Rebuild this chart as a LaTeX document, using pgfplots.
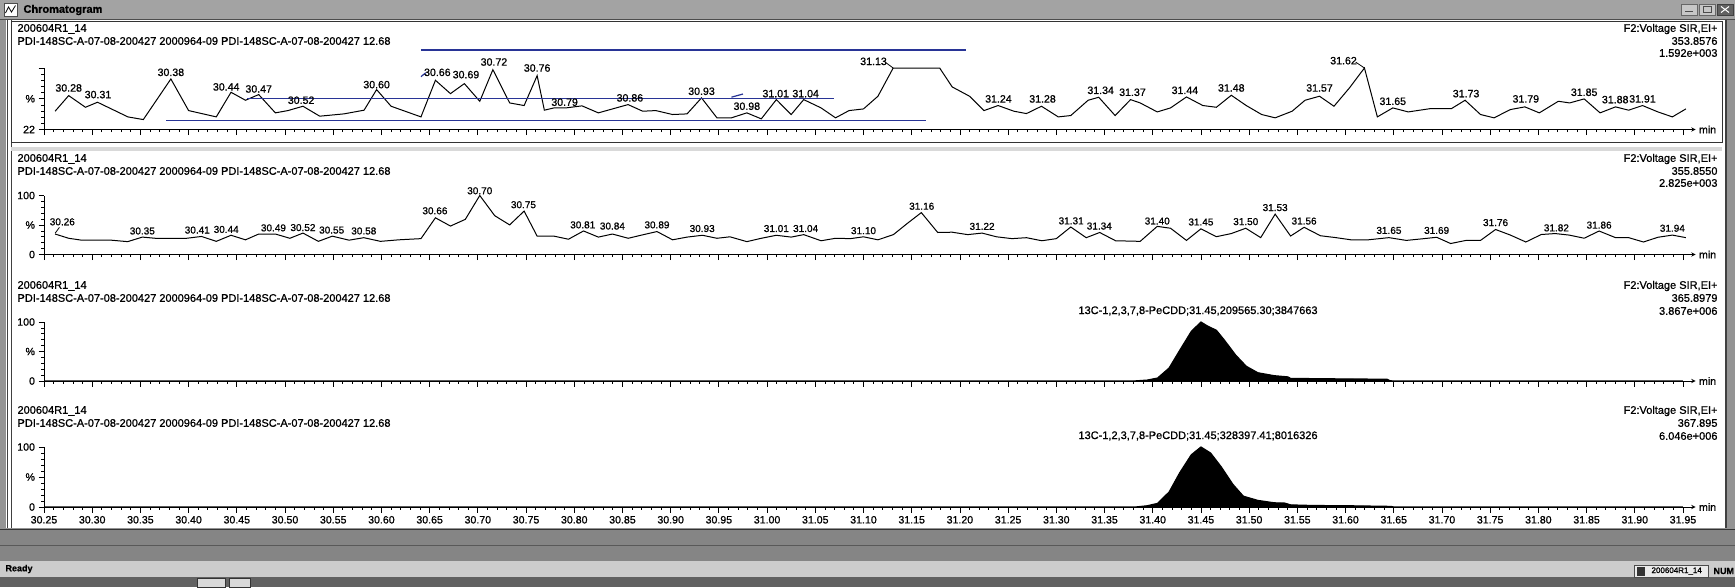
\documentclass[border=0pt]{standalone}
\usepackage{pgfplots}
\pgfplotsset{compat=1.18}
\usepackage{fontspec}
\setmainfont{Liberation Sans}[FakeBold=0.9]
\newcommand{\fh}{\fontsize{11pt}{12pt}\selectfont}
\newcommand{\fs}{\fontsize{10.6pt}{12pt}\selectfont}
\newcommand{\fl}{\fontsize{10pt}{11pt}\selectfont}
\definecolor{ann}{RGB}{40,52,150}
\tikzset{lab/.style={font=\fs, inner sep=0pt}, labs/.style={font=\fl, inner sep=0pt}}
\pgfplotsset{chrom/.style={
  scale only axis, width=1651.5pt, height=59pt,
  xmin=30.25, xmax=31.963,
  axis x line*=bottom, axis y line*=left,
  x axis line style={-stealth},
  axis line style={black, line width=0.9pt},
  tick align=outside,
  major tick length=5.5pt, minor tick length=2.7pt,
  every tick/.style={black, line width=0.8pt},
  xtick={30.25,30.30,30.35,30.40,30.45,30.50,30.55,30.60,30.65,30.70,30.75,30.80,30.85,30.90,30.95,31.00,31.05,31.10,31.15,31.20,31.25,31.30,31.35,31.40,31.45,31.50,31.55,31.60,31.65,31.70,31.75,31.80,31.85,31.90,31.95},
  minor x tick num=4, minor y tick num=4,
  ymin=0, ymax=100, ytick={0,50,100}, yticklabels={0,\%,100},
  tick label style={font=\fs},
  clip=false,
  cycle list={{black, line width=1pt, mark=none}},
}, nolab/.style={xticklabel style={opacity=0, text opacity=0}}}
\begin{document}
\begin{tikzpicture}
\useasboundingbox (0pt,0pt) rectangle (1735pt,-587pt);
\begin{scope}[x=1pt,y=-1pt]
% window
\fill[black!42] (0,0) rectangle (1735,587);
\fill[black!36] (0,0) rectangle (1735,19);
\draw[black!70] (0,19.5) -- (1735,19.5);
\draw[draw=black!70, fill=white] (4,3) rectangle (17,16);
\draw[black, line width=0.8pt] (5.5,13) -- (8.5,7) -- (11.5,12) -- (15.5,5.5);
\node[anchor=west, font=\fh\bfseries] at (20,10) {Chromatogram};
\draw[draw=black!60, fill=black!22] (1681,4) rectangle (1697,15);
\draw[black!70, line width=1pt] (1685,11.5) -- (1693,11.5);
\draw[draw=black!60, fill=black!22] (1699,4) rectangle (1715,15);
\draw[black!70, line width=0.8pt] (1703,6.5) rectangle (1711,12.5);
\draw[draw=black!75, fill=black!62] (1717,4) rectangle (1733,15);
\draw[white, line width=1pt] (1721,6.5) -- (1729,12.5) (1721,12.5) -- (1729,6.5);
% client area
\fill[white] (6,20) rectangle (1726,528);
\draw[black!75, line width=0.9pt] (7,20) -- (7,528);
\draw[black!75, line width=0.9pt] (11,20) -- (11,528);
\draw[black!75, line width=1.2pt] (1726,20) -- (1726,528);
\draw[black!80, line width=0.9pt] (11,21) rectangle (1722,142);
\fill[black!15] (11,147) rectangle (1722,151);
% bottom bars
\fill[black!48] (0,529) rectangle (1735,561);
\draw[black!80, line width=1pt] (0,529) -- (1735,529);
\draw[black!65] (0,545) -- (1735,545);
\fill[black!20] (0,561) rectangle (1735,577);
\fill[black!62] (0,577) rectangle (1735,587);
\node[anchor=west, font=\fontsize{9pt}{10pt}\selectfont\bfseries] at (2,569) {Ready};
\draw[draw=black!80, fill=black!15] (197,578) rectangle (225,587);
\draw[draw=black!80, fill=black!15] (229,578) rectangle (250,587);
\draw[draw=black!70, fill=black!8] (1634,565) rectangle (1708,577);
\fill[black!80] (1637,566.5) rectangle (1645,575.5);
\node[anchor=west, font=\fontsize{8pt}{9pt}\selectfont] at (1648,571) {200604R1\_14};
\node[anchor=west, font=\fontsize{9pt}{10pt}\selectfont\bfseries] at (1710,571) {NUM};
% panel headers
\foreach \ya/\yb in {29/41, 159/171, 286/298, 411/423}{
  \node[anchor=west, font=\fh] at (14,\ya) {200604R1\_14};
  \node[anchor=west, font=\fh] at (14,\yb) {PDI-148SC-A-07-08-200427 2000964-09 PDI-148SC-A-07-08-200427 12.68};
}
\foreach \ya/\yb/\yc/\ta/\tb in {29/41/53/353.8576/1.592e+003, 159/171/183/355.8550/2.825e+003, 286/298/311/365.8979/3.867e+006, 411/423/436/367.895/6.046e+006}{
  \node[anchor=east, font=\fh] at (1721,\ya) {F2:Voltage SIR,EI+};
  \node[anchor=east, font=\fh] at (1721,\yb) {\ta};
  \node[anchor=east, font=\fh] at (1721,\yc) {\tb};
}
\end{scope}

% ---------------- panel 1
\begin{axis}[chrom, nolab, at={(44pt,-129.5pt)}, anchor=south west, height=61.5pt,
  ymin=22, ymax=100, ytick={22,61,100}, yticklabels={22,\%,{}}]
\addplot[black, line width=1pt] coordinates {
(30.2615,45.2)(30.2756,65.0)(30.293,50.2)(30.3055,56.6)(30.337,38.0)(30.353,34.6)
(30.3816,86.1)(30.400,46.0)(30.4287,38.0)(30.444,69.2)(30.459,59.1)(30.4727,66.3)
(30.490,43.1)(30.503,46.0)(30.5186,51.5)(30.536,38.9)(30.561,41.8)(30.582,46.5)
(30.595,72.6)(30.610,51.5)(30.641,38.0)(30.656,84.4)(30.6716,67.5)(30.686,80.2)
(30.702,57.8)(30.7156,97.9)(30.733,55.7)(30.748,52.4)(30.7615,90.3)(30.769,46.5)
(30.779,49.4)(30.792,49.5)(30.808,52.0)(30.825,43.1)(30.8558,53.6)(30.871,45.2)
(30.8846,46.0)(30.902,41.0)(30.917,41.8)(30.932,62.1)(30.948,36.8)(30.963,36.8)
(30.979,43.1)(30.994,35.5)(31.0096,59.9)(31.025,41.0)(31.038,59.9)(31.056,49.4)
(31.071,36.8)(31.085,46.0)(31.100,48.1)(31.115,64.2)(31.1308,100)(31.179,100)
(31.192,76.0)(31.210,64.2)(31.225,46.0)(31.2396,52.4)(31.256,45.2)(31.269,42.2)
(31.2846,51.5)(31.302,38.0)(31.315,39.7)(31.333,59.1)(31.344,62.9)(31.361,39.7)
(31.377,59.9)(31.387,55.7)(31.4047,44.3)(31.4185,49.4)(31.435,63.3)(31.452,52.4)
(31.466,50.2)(31.4815,65.4)(31.497,52.4)(31.513,41.0)(31.527,36.8)(31.5446,45.2)
(31.558,59.1)(31.573,64.2)(31.588,51.5)(31.604,74.7)(31.6196,100)(31.633,38.0)
(31.649,49.4)(31.665,44.3)(31.6886,48.6)(31.710,48.6)(31.724,59.1)(31.740,41.0)
(31.754,36.8)(31.771,47.3)(31.786,50.7)(31.801,43.1)(31.8207,57.8)(31.8325,55.7)
(31.8475,60.8)(31.864,43.1)(31.880,50.7)(31.8936,46.5)(31.908,52.4)(31.924,44.3)
(31.939,38.0)(31.953,48.1)};
% hand-drawn blue annotation lines
\addplot[ann, line width=1.8pt] coordinates {(30.641,122.5)(31.206,122.5)};
\addplot[ann, line width=1.8pt] coordinates {(30.461,61.2)(31.069,61.2)};
\addplot[ann, line width=1.8pt] coordinates {(30.377,33.5)(31.165,33.5)};
\addplot[ann, line width=1.2pt] coordinates {(30.641,89)(30.646,94)};
\addplot[ann, line width=1.2pt] coordinates {(30.963,63)(30.975,67)};
\node[lab] at (axis cs:30.2756,74.7) {30.28};
\node[lab] at (axis cs:30.306,66.3) {30.31};
\node[lab] at (axis cs:30.3816,94.5) {30.38};
\node[lab] at (axis cs:30.439,76) {30.44};
\node[lab] at (axis cs:30.4727,73.4) {30.47};
\node[lab] at (axis cs:30.5167,59.1) {30.52};
\node[lab] at (axis cs:30.595,78.9) {30.60};
\node[lab] at (axis cs:30.658,94.5) {30.66};
\node[lab] at (axis cs:30.6877,91.6) {30.69};
\node[lab] at (axis cs:30.7167,107.6) {30.72};
\node[lab] at (axis cs:30.7615,100) {30.76};
\node[lab] at (axis cs:30.79,56.6) {30.79};
\node[lab] at (axis cs:30.8577,62.1) {30.86};
\node[lab] at (axis cs:30.932,70.5) {30.93};
\node[lab] at (axis cs:30.979,51.5) {30.98};
\node[lab] at (axis cs:31.009,67.5) {31.01};
\node[lab] at (axis cs:31.040,67.5) {31.04};
\node[lab] at (axis cs:31.1104,108.4) {31.13};
\draw[black, line width=0.8pt] (axis cs:31.1235,106.5) -- (axis cs:31.1308,100);
\node[lab] at (axis cs:31.240,60.8) {31.24};
\node[lab] at (axis cs:31.2857,60.8) {31.28};
\node[lab] at (axis cs:31.346,71.7) {31.34};
\node[lab] at (axis cs:31.379,69.2) {31.37};
\node[lab] at (axis cs:31.4334,71.7) {31.44};
\node[lab] at (axis cs:31.4815,74.7) {31.48};
\node[lab] at (axis cs:31.573,74.7) {31.57};
\node[lab] at (axis cs:31.5979,109.3) {31.62};
\draw[black, line width=0.8pt] (axis cs:31.6105,107.5) -- (axis cs:31.6196,100);
\node[lab] at (axis cs:31.649,57.8) {31.65};
\node[lab] at (axis cs:31.725,67.5) {31.73};
\node[lab] at (axis cs:31.787,60.8) {31.79};
\node[lab] at (axis cs:31.8475,69.2) {31.85};
\node[lab] at (axis cs:31.8797,59.9) {31.88};
\node[lab] at (axis cs:31.908,60.8) {31.91};
\node[font=\fs, anchor=west] at (rel axis cs:1,0) {min};
\end{axis}

% ---------------- panel 2
\begin{axis}[chrom, nolab, at={(44pt,-254.5pt)}, anchor=south west]
\addplot[black, line width=1pt] coordinates {
(30.2615,34.7)(30.2756,27.5)(30.289,24.3)(30.3196,24.3)(30.3368,21.8)(30.352,29.5)
(30.3655,27.5)(30.398,27.5)(30.4133,30.6)(30.4287,22.3)(30.444,32.6)(30.459,24.9)
(30.4727,34.7)(30.490,34.7)(30.505,27.5)(30.5186,36.3)(30.5346,22.3)(30.549,31.1)
(30.5664,24.3)(30.5817,28.5)(30.599,22.3)(30.618,24.9)(30.641,26.9)(30.656,62.2)
(30.6716,48.2)(30.687,59.6)(30.702,100)(30.7175,65.8)(30.733,50.2)(30.748,73.6)
(30.7615,31.1)(30.779,31.1)(30.794,25.9)(30.8096,39.9)(30.825,29.5)(30.8396,34.7)
(30.856,27.5)(30.869,32.6)(30.8858,38.9)(30.902,24.9)(30.917,29.5)(30.933,32.6)
(30.948,27.5)(30.9615,30.0)(30.979,21.8)(30.994,27.5)(31.0096,32.6)(31.025,29.5)
(31.038,33.7)(31.056,23.3)(31.071,27.5)(31.0865,26.9)(31.100,30.0)(31.115,24.9)
(31.131,33.7)(31.146,53.4)(31.160,71.0)(31.177,37.3)(31.192,37.8)(31.208,33.7)
(31.223,36.3)(31.238,30.0)(31.254,26.9)(31.269,28.5)(31.285,23.3)(31.300,26.9)
(31.315,46.6)(31.331,28.5)(31.345,37.3)(31.3615,23.3)(31.387,22.3)(31.4047,47.7)
(31.4185,44.5)(31.435,23.9)(31.450,43.5)(31.466,30.2)(31.4815,35.5)(31.4965,44.5)
(31.512,28.6)(31.527,68.4)(31.543,31.3)(31.557,46.1)(31.574,31.8)(31.590,28.6)
(31.6056,24.9)(31.6235,24.9)(31.645,28.6)(31.663,23.9)(31.679,26.5)(31.6945,29.2)
(31.709,18.6)(31.725,23.9)(31.740,23.9)(31.7556,42.4)(31.771,32.9)(31.787,21.2)
(31.803,33.9)(31.8175,35.5)(31.832,32.9)(31.8475,27.6)(31.863,39.8)(31.880,28.6)
(31.8936,28.6)(31.909,21.2)(31.924,29.2)(31.939,32.9)(31.953,28.6)};
\node[labs] at (axis cs:30.269,55.4) {30.26};
\draw[black, line width=0.8pt] (axis cs:30.2615,36) -- (axis cs:30.266,46);
\node[labs] at (axis cs:30.352,39.9) {30.35};
\node[labs] at (axis cs:30.409,41.4) {30.41};
\node[labs] at (axis cs:30.439,42.5) {30.44};
\node[labs] at (axis cs:30.488,45.1) {30.49};
\node[labs] at (axis cs:30.5186,45.6) {30.52};
\node[labs] at (axis cs:30.5484,41.4) {30.55};
\node[labs] at (axis cs:30.5817,39.9) {30.58};
\node[labs] at (axis cs:30.6555,74.1) {30.66};
\node[labs] at (axis cs:30.702,108) {30.70};
\node[labs] at (axis cs:30.7473,84.4) {30.75};
\node[labs] at (axis cs:30.8088,50.2) {30.81};
\node[labs] at (axis cs:30.8396,48.2) {30.84};
\node[labs] at (axis cs:30.8858,50.2) {30.89};
\node[labs] at (axis cs:30.9327,44.0) {30.93};
\node[labs] at (axis cs:31.0096,44.0) {31.01};
\node[labs] at (axis cs:31.040,44.0) {31.04};
\node[labs] at (axis cs:31.100,40.4) {31.10};
\node[labs] at (axis cs:31.1604,81.8) {31.16};
\node[labs] at (axis cs:31.223,47.7) {31.22};
\node[labs] at (axis cs:31.3154,57.0) {31.31};
\node[labs] at (axis cs:31.3446,48.2) {31.34};
\node[labs] at (axis cs:31.4047,56.7) {31.40};
\node[labs] at (axis cs:31.450,55.1) {31.45};
\node[labs] at (axis cs:31.4965,55.7) {31.50};
\node[labs] at (axis cs:31.527,79.5) {31.53};
\node[labs] at (axis cs:31.557,56.7) {31.56};
\node[labs] at (axis cs:31.645,40.8) {31.65};
\node[labs] at (axis cs:31.6945,40.8) {31.69};
\node[labs] at (axis cs:31.7556,54.1) {31.76};
\node[labs] at (axis cs:31.8187,45.1) {31.82};
\node[labs] at (axis cs:31.863,49.8) {31.86};
\node[labs] at (axis cs:31.939,44.5) {31.94};
\node[font=\fs, anchor=west] at (rel axis cs:1,0) {min};
\end{axis}

% ---------------- panel 3
\begin{axis}[chrom, nolab, at={(44pt,-381pt)}, anchor=south west]
\addplot[fill=black, draw=black, line width=1.2pt] coordinates {
(30.25,0)(31.380,0)(31.394,1.5)(31.405,5)(31.417,22)(31.428,52)(31.440,84)(31.450,100)
(31.457,93)(31.466,86)(31.474,70)(31.486,44)(31.497,25)(31.509,14)(31.526,9)(31.540,7)
(31.543,4.5)(31.566,4)(31.600,3.5)(31.643,3)(31.646,0.5)(31.650,0)(31.95,0)} \closedcycle;
\node[font=\fh, anchor=south] at (axis cs:31.447,100) [yshift=3pt] {13C-1,2,3,7,8-PeCDD;31.45,209565.30;3847663};
\node[font=\fs, anchor=west] at (rel axis cs:1,0) {min};
\end{axis}

% ---------------- panel 4
\begin{axis}[chrom, at={(44pt,-507pt)}, anchor=south west, height=60pt,
  xticklabels={30.25,30.30,30.35,30.40,30.45,30.50,30.55,30.60,30.65,30.70,30.75,30.80,30.85,30.90,30.95,31.00,31.05,31.10,31.15,31.20,31.25,31.30,31.35,31.40,31.45,31.50,31.55,31.60,31.65,31.70,31.75,31.80,31.85,31.90,31.95}]
\addplot[fill=black, draw=black, line width=1.2pt] coordinates {
(30.25,0)(31.382,0)(31.394,2)(31.405,6)(31.417,25)(31.428,57)(31.440,87)(31.450,100)
(31.460,90)(31.471,67)(31.483,38)(31.494,18)(31.509,11)(31.526,7)(31.537,6.5)(31.543,3.5)
(31.566,2.5)(31.606,2)(31.647,1)(31.650,0)(31.95,0)} \closedcycle;
\node[font=\fh, anchor=south] at (axis cs:31.447,100) [yshift=3pt] {13C-1,2,3,7,8-PeCDD;31.45;328397.41;8016326};
\node[font=\fs, anchor=west] at (rel axis cs:1,0) {min};
\end{axis}
\end{tikzpicture}
\end{document}
